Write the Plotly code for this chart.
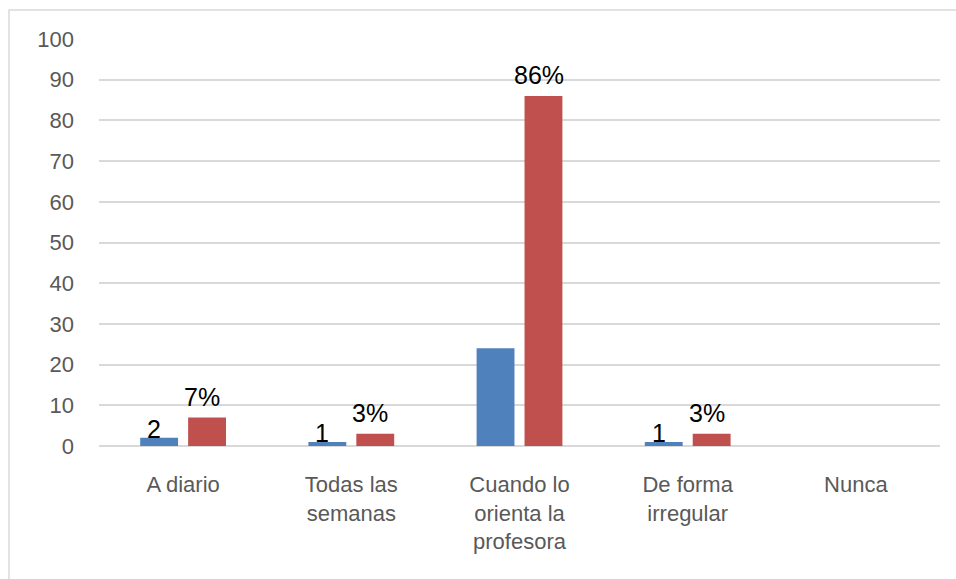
import plotly.graph_objects as go

categories = ["A diario", "Todas las<br>semanas", "Cuando lo<br>orienta la<br>profesora", "De forma<br>irregular", "Nunca"]
counts = [2, 1, 24, 1, 0]
percents = [7, 3, 86, 3, 0]
count_labels = ["2", "1", "", "1", ""]
percent_labels = ["7%", "3%", "86%", "3%", ""]
y_ticks = [0, 10, 20, 30, 40, 50, 60, 70, 80, 90, 100]

BLUE = "#4F81BD"
RED = "#C0504D"
FONT = "Liberation Sans"

fig = go.Figure()
fig.add_trace(go.Bar(x=categories, y=counts, marker=dict(color=BLUE, line=dict(width=0)),
                     name="Frecuencia", hoverinfo="skip"))
fig.add_trace(go.Bar(x=categories, y=percents, marker=dict(color=RED, line=dict(width=0)),
                     name="Porcentaje", hoverinfo="skip"))

annotations = []
for cat, val, lab in zip(categories, counts, count_labels):
    if lab:
        annotations.append(dict(x=cat, y=val, text=lab, showarrow=False, xref="x", yref="y",
                                xshift=-29, yshift=9, yanchor="middle",
                                font=dict(family=FONT, size=25, color="#000000")))
for cat, val, lab in zip(categories, percents, percent_labels):
    if lab:
        annotations.append(dict(x=cat, y=val, text=lab, showarrow=False, xref="x", yref="y",
                                xshift=19, yshift=21, yanchor="middle",
                                font=dict(family=FONT, size=25, color="#000000")))

fig.update_layout(
    width=956, height=579,
    margin=dict(l=99, r=16, t=39, b=133),
    paper_bgcolor="white", plot_bgcolor="white",
    showlegend=False,
    barmode="group", bargap=0.43, bargroupgap=0.21,
    font=dict(family=FONT, size=22, color="#595959"),
    annotations=annotations,
    shapes=[dict(type="rect", xref="paper", yref="paper",
                 x0=-0.107, x1=1.2, y0=-0.6, y1=1.0713,
                 line=dict(color="#D9D9D9", width=1.5), fillcolor="rgba(0,0,0,0)", layer="below")],
)
fig.update_xaxes(showgrid=False, showline=False, zeroline=False, ticks="",
                 tickfont=dict(family=FONT, size=22, color="#595959"), ticklabelstandoff=23)
fig.update_yaxes(range=[0, 100], tickvals=y_ticks, showgrid=True, gridcolor="#D9D9D9", gridwidth=1.5,
                 zeroline=True, zerolinecolor="#D9D9D9", zerolinewidth=1.5, showline=False, ticks="",
                 tickfont=dict(family=FONT, size=22, color="#595959"), ticklabelstandoff=24)

fig.write_html("out.html", config={"displayModeBar": False},
               post_script="document.body.style.margin='0px';document.body.style.overflow='hidden';")
